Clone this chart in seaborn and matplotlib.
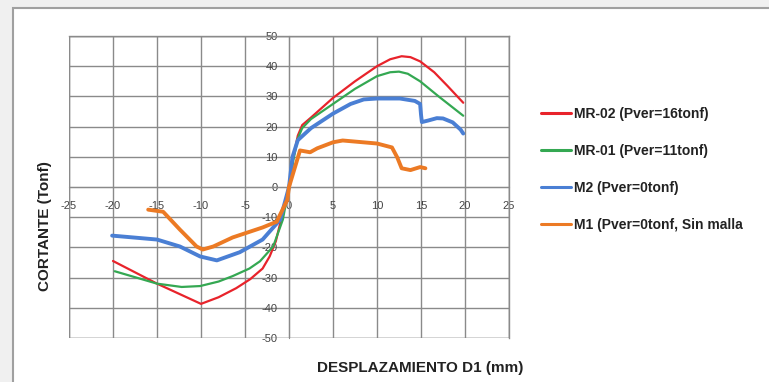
import matplotlib
matplotlib.use("Agg")
import matplotlib.pyplot as plt
import seaborn as sns
import pandas as pd
from matplotlib.patches import Rectangle

# ---- data ----
mr02_x = [-20, -15, -10, -8, -6, -4.4, -3, -2.2, -1.5, -1, -0.5, 0,
          0.5, 1, 1.5, 2.5, 5, 7.5, 10, 11.5, 12.8, 13.8, 14.9, 16.5, 18, 19.8]
mr02_y = [-24.5, -32, -38.7, -36.5, -33.5, -30.5, -27, -23, -18, -12, -6, 0,
          10, 17, 20.5, 23, 29.5, 35, 40, 42.3, 43.3, 43, 41.6, 38, 33.5, 27.9]

mr01_x = [-19.8, -15, -12.2, -10.1, -8, -6.4, -4.5, -3.3, -1.8, -0.7, 0,
          0.5, 1, 1.5, 2.5, 5, 7.5, 10, 11.5, 12.5, 13.5, 14.9, 17, 19.8]
mr01_y = [-27.9, -32, -33.1, -32.8, -31.3, -29.5, -27, -24.6, -19.7, -10.8, 0,
          9, 16, 19.5, 22.5, 27.5, 32.5, 36.7, 38, 38.2, 37.5, 35, 30, 23.6]

m2_x = [-20.1, -15, -12.4, -10.1, -8.2, -5.6, -3, -1, 0,
        0.4, 1, 2.5, 5, 7, 8.5, 10, 12.6, 14.3, 14.9, 15.0, 15.1, 15.8, 16.8, 17.5, 18.6,
        19.5, 19.8]
m2_y = [-16.1, -17.4, -19.7, -23, -24.3, -21.6, -17.4, -10.8, 0,
        10, 15.5, 19.5, 24.3, 27.5, 29, 29.3, 29.3, 28.5, 27.5, 24, 21.5, 22, 22.8, 22.7, 21.4,
        19, 17.7]

m1_x = [-16, -14.3, -12.4, -10.5, -9.8, -8.6, -6.4, -3, -1.4, -0.2, 0, 1.25, 2.4, 3.2, 5, 6.1,
        10, 11.7, 12.3, 12.8, 13.8, 14.9, 15.5]
m1_y = [-7.5, -8.2, -14.1, -19.7, -20.7, -19.7, -16.7, -13.4, -11.5, -4.3, 0, 12.1, 11.5, 12.8,
        14.8, 15.4, 14.4, 13.1, 9.8, 6.2, 5.6, 6.6, 6.2]

labels = ["MR-02 (Pver=16tonf)", "MR-01 (Pver=11tonf)", "M2 (Pver=0tonf)",
          "M1 (Pver=0tonf, Sin malla"]
colors = ["#e8232b", "#34a852", "#4a7fd4", "#ec7a24"]
widths = [1.6, 1.6, 2.8, 2.8]

x_ticks = [-25, -20, -15, -10, -5, 0, 5, 10, 15, 20, 25]
y_ticks = [-50, -40, -30, -20, -10, 0, 10, 20, 30, 40, 50]

series = [(mr02_x, mr02_y), (mr01_x, mr01_y), (m2_x, m2_y), (m1_x, m1_y)]

sns.set_style("white")
plt.rcParams['font.family'] = ['Liberation Sans', 'DejaVu Sans']

fig = plt.figure(figsize=(7.69, 3.82), dpi=100)
fig.patch.set_facecolor("#f0f0f0")
bg = fig.add_axes([0, 0, 1, 1], zorder=-10)
bg.set_xlim(0, 769)
bg.set_ylim(382, 0)
bg.axis("off")
bg.add_patch(Rectangle((13, 8), 800, 400, facecolor="white", edgecolor="#a0a0a0", linewidth=1.5))

ax = fig.add_axes([69/769, 1 - 338/382, 440/769, 302/382])
ax.set_facecolor("none")

for (xs, ys), lab, c, w in zip(series, labels, colors, widths):
    df = pd.DataFrame({"x": xs, "y": ys})
    sns.lineplot(data=df, x="x", y="y", ax=ax, sort=False, estimator=None,
                 color=c, linewidth=w, label=lab, zorder=3)

ax.set_xlim(-25, 25)
ax.set_ylim(-50, 50)
ax.set_xticks(x_ticks)
ax.set_yticks(y_ticks)
ax.grid(True, color="#8a8a8a", linewidth=1.0)
for s in ["top", "right"]:
    ax.spines[s].set_color("#8a8a8a")
    ax.spines[s].set_linewidth(1.0)
ax.spines["left"].set_position(("data", 0))
ax.spines["bottom"].set_position(("data", 0))
ax.spines["left"].set_color("#8a8a8a")
ax.spines["bottom"].set_color("#8a8a8a")
ax.add_patch(Rectangle((0, 0), 1, 1, transform=ax.transAxes, fill=False,
                       edgecolor="#8a8a8a", linewidth=1.0, zorder=1))
ax.tick_params(axis="both", labelsize=8, labelcolor="#444444", color="#8a8a8a",
               length=4, width=1, direction="out")
ax.tick_params(axis="x", pad=6)
ax.tick_params(axis="y", pad=4)
ax.set_xticklabels([str(v) for v in x_ticks])
ax.set_yticklabels([str(v) for v in y_ticks])
ax.set_xlabel("")
ax.set_ylabel("")

fig.text(420/769, 1 - 368/382, "DESPLAZAMIENTO D1 (mm)", ha="center", va="center",
         fontsize=11, fontweight="bold", color="#222222")
fig.text(45/769, 1 - 226/382, "CORTANTE (Tonf)", ha="center", va="center", rotation=90,
         fontsize=11, fontweight="bold", color="#222222")

leg = ax.legend(loc="upper left", bbox_to_anchor=(541/769, 1 - 107/382),
                bbox_transform=fig.transFigure, frameon=False, fontsize=10,
                handlelength=2.15, handletextpad=0.25, labelspacing=1.65,
                borderaxespad=0, borderpad=0)
for t in leg.get_texts():
    t.set_fontweight("bold")
    t.set_color("#222222")
for h in leg.get_lines():
    h.set_linewidth(2.2)

fig.savefig("out.png", dpi=100, facecolor=fig.get_facecolor())
